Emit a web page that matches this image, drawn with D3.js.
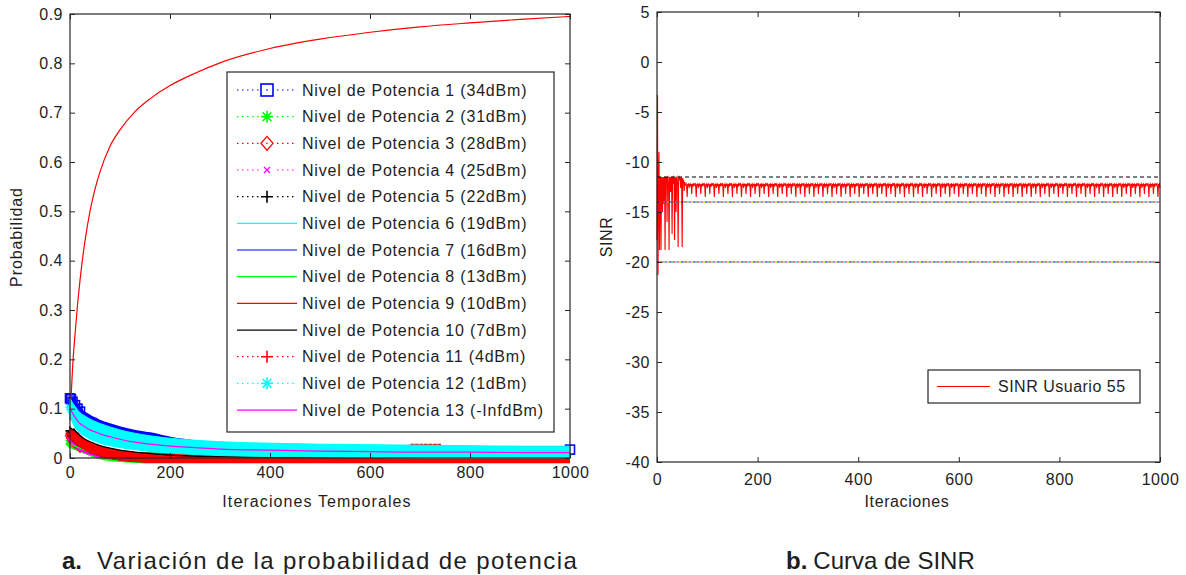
<!DOCTYPE html>
<html>
<head>
<meta charset="utf-8">
<script src="https://cdn.jsdelivr.net/npm/d3@7"></script>
<style>
  body { margin: 0; background: #fff; }
  svg text { font-family: "Liberation Sans", Arial, sans-serif; fill: #1e1e1e; }
</style>
</head>
<body>
<svg id="fig" width="1186" height="575"></svg>
<script>
// ---------- Panel a: probability of each power level ----------
const ITERS = [0, 2, 5, 10, 15, 20, 30, 40, 50, 60, 80, 100, 130, 160, 200, 250, 300, 400, 500, 600, 700, 800, 900, 1000];

const P1  = [0.121,0.119,0.114,0.107,0.100,0.094,0.087,0.081,0.076,0.071,0.064,0.058,0.051,0.046,0.037,0.030,0.026,0.023,0.021,0.020,0.019,0.018,0.017,0.017];
const P2  = [0.035,0.032,0.030,0.028,0.026,0.024,0.020,0.016,0.012,0.009,0.005,0.003,0.001,0,0,0,0,0,0,0,0,0,0,0];
const P3_ITERS = [0, 2, 5, 10, 20, 40, 60, 100, 200, 300, 680, 680, 740, 740, 1000];
const P3  = [0.045,0.040,0.035,0.030,0.022,0.013,0.008,0.004,0.001,0.001,0.001,0.027,0.027,0.001,0.001];
const P4  = [0.045,0.042,0.038,0.033,0.028,0.024,0.018,0.014,0.011,0.009,0.006,0.004,0.002,0.001,0,0,0,0,0,0,0,0,0,0];
const P5  = [0.055,0.052,0.048,0.043,0.038,0.033,0.026,0.021,0.017,0.014,0.009,0.005,0.002,0.001,0,0,0,0,0,0,0,0,0,0];
const P6  = [0.095,0.092,0.086,0.078,0.071,0.066,0.059,0.054,0.050,0.046,0.040,0.035,0.030,0.026,0.022,0.019,0.017,0.014,0.013,0.012,0.011,0.011,0.010,0.010];
const P7  = [0.110,0.107,0.101,0.093,0.086,0.080,0.073,0.067,0.062,0.058,0.051,0.046,0.040,0.035,0.030,0.026,0.023,0.020,0.018,0.017,0.016,0.016,0.015,0.015];
const P8  = [0.030,0.028,0.026,0.024,0.022,0.020,0.016,0.012,0.009,0.007,0.004,0.002,0.001,0,0,0,0,0,0,0,0,0,0,0];
const P9  = [0.077,0.120,0.180,0.250,0.310,0.360,0.440,0.500,0.545,0.580,0.632,0.665,0.702,0.728,0.755,0.780,0.801,0.830,0.849,0.863,0.874,0.882,0.889,0.895];
const P10 = [0.060,0.060,0.058,0.055,0.050,0.045,0.038,0.033,0.029,0.025,0.020,0.016,0.012,0.009,0.006,0.004,0.003,0.002,0.001,0.001,0.001,0.001,0.001,0.001];
const P11 = [0.050,0.049,0.047,0.044,0.039,0.034,0.027,0.022,0.018,0.014,0.009,0.005,0.002,0,0,0,0,0,0,0,0,0,0,0];
const P12 = [0.103,0.099,0.092,0.084,0.077,0.071,0.064,0.058,0.054,0.050,0.044,0.039,0.033,0.029,0.025,0.022,0.019,0.016,0.015,0.014,0.013,0.012,0.012,0.012];
// spread of the level-12 samples around its mean (per iteration window)
const P12_HI = [0.120,0.118,0.112,0.105,0.098,0.092,0.085,0.079,0.074,0.070,0.063,0.057,0.050,0.045,0.040,0.036,0.033,0.030,0.028,0.027,0.026,0.025,0.024,0.024];
const P12_LO = [0.085,0.080,0.072,0.062,0.055,0.050,0.044,0.038,0.034,0.030,0.025,0.021,0.017,0.013,0.010,0.007,0.005,0.003,0.002,0.001,0,0,0,0];
const P13 = [0.100,0.097,0.091,0.083,0.076,0.070,0.063,0.057,0.053,0.049,0.043,0.038,0.032,0.028,0.024,0.021,0.018,0.016,0.014,0.013,0.012,0.012,0.011,0.011];

const LEVEL_NAMES = [
  "Nivel de Potencia 1 (34dBm)", "Nivel de Potencia 2 (31dBm)", "Nivel de Potencia 3 (28dBm)",
  "Nivel de Potencia 4 (25dBm)", "Nivel de Potencia 5 (22dBm)", "Nivel de Potencia 6 (19dBm)",
  "Nivel de Potencia 7 (16dBm)", "Nivel de Potencia 8 (13dBm)", "Nivel de Potencia 9 (10dBm)",
  "Nivel de Potencia 10 (7dBm)", "Nivel de Potencia 11 (4dBm)", "Nivel de Potencia 12 (1dBm)",
  "Nivel de Potencia 13 (-InfdBm)"
];
const LEVEL_COLORS  = ["#0000ff","#00ff00","#ff0000","#ff00ff","#000000","#00ffff","#0000ff","#00ff00","#ff0000","#000000","#ff0000","#00ffff","#ff00ff"];
const LEVEL_DOTTED  = [true,true,true,true,true,false,false,false,false,false,true,true,false];
const LEVEL_MARKERS = ["square","asterisk","diamond","x","plus",null,null,null,null,null,"plus","asterisk",null];

const PROB_X_TICKS = [0, 200, 400, 600, 800, 1000];
const PROB_Y_TICKS = [0, 0.1, 0.2, 0.3, 0.4, 0.5, 0.6, 0.7, 0.8, 0.9];

// ---------- Panel b: SINR of user 55 ----------
// first iterations (transient), one value per iteration from 0
const SINR_HEAD = [-17.8,-3.3,-21.3,-12.5,-9.0,-18.8,-11.5,-11.6,-18.8,-11.5,-11.6,-15.0,-11.5,-14.2,-11.6,-11.5,
  -18.8,-11.5,-11.7,-11.5,-16.0,-11.6,-11.5,-12.4,-18.8,-11.5,-11.6,-13.0,-11.5,-11.7,-17.2,-11.6,-11.5,-12.2,
  -11.6,-17.8,-11.5,-11.7,-15.0,-11.6,-11.5,-12.3,-18.5,-11.6,-11.5,-11.8,-11.6,-12.6,-11.5,-11.7,-18.5,-11.6,
  -11.8,-11.9,-12.9,-12.0];
// the steady regime repeats this cycle up to iteration 1000
const SINR_CYCLE = [-12.2,-12.3,-12.2,-12.5,-13.5,-12.2,-12.3,-12.2,-12.6,-12.2,-12.4,-12.2,-12.3,-13.2,-12.2,-12.5,-12.2,-12.3];
const SINR_LAST_ITER = 1000;
const SINR_TARGET = [-11.5];
const SINR_LIMITS = [-14, -20];
const SINR_X_TICKS = [0, 200, 400, 600, 800, 1000];
const SINR_Y_TICKS = [5, 0, -5, -10, -15, -20, -25, -30, -35, -40];

const svg = d3.select("#fig");
const FRAME = "#262626";

// ---------- helpers ----------
function drawMarker(g, type, x, y, color, s) {
  const m = g.append("g").attr("transform", `translate(${x},${y})`)
    .attr("stroke", color).attr("fill", "none").attr("stroke-width", 1.3);
  if (type === "square") {
    m.append("rect").attr("x", -s).attr("y", -s).attr("width", 2 * s).attr("height", 2 * s).attr("stroke-width", 1.6);
    m.append("rect").attr("x", -0.7).attr("y", -0.7).attr("width", 1.4).attr("height", 1.4).attr("fill", color).attr("stroke", "none");
  } else if (type === "asterisk") {
    const d = s * 0.72;
    m.append("path").attr("d", `M${-s},0H${s}M0,${-s}V${s}M${-d},${-d}L${d},${d}M${-d},${d}L${d},${-d}`).attr("stroke-width", 1.6);
  } else if (type === "diamond") {
    m.append("path").attr("d", `M0,${-s * 1.15}L${s},0L0,${s * 1.15}L${-s},0Z`).attr("stroke-width", 1.3);
    m.append("rect").attr("x", -0.7).attr("y", -0.7).attr("width", 1.4).attr("height", 1.4).attr("fill", color).attr("stroke", "none");
  } else if (type === "x") {
    const d = s * 0.6;
    m.append("path").attr("d", `M${-d},${-d}L${d},${d}M${-d},${d}L${d},${-d}`);
  } else if (type === "plus") {
    m.append("path").attr("d", `M${-s},0H${s}M0,${-s}V${s}`).attr("stroke-width", 1.6);
  }
}

const plainNum = d => String(d);

function boxAxes(g, x, y, xTicks, yTicks, xPad, yPad, fmtY) {
  const [x0, x1] = x.range();
  const [y0, y1] = y.range();
  g.append("g").attr("transform", `translate(0,${y0})`)
    .call(d3.axisBottom(x).tickValues(xTicks).tickSize(-5).tickPadding(xPad).tickFormat(plainNum));
  g.append("g").attr("transform", `translate(0,${y1})`)
    .call(d3.axisTop(x).tickValues(xTicks).tickSize(-5).tickFormat(""));
  g.append("g").attr("transform", `translate(${x0},0)`)
    .call(d3.axisLeft(y).tickValues(yTicks).tickSize(-5).tickPadding(yPad).tickFormat(fmtY));
  g.append("g").attr("transform", `translate(${x1},0)`)
    .call(d3.axisRight(y).tickValues(yTicks).tickSize(-5).tickFormat(""));
  g.selectAll(".domain").remove();
  g.selectAll(".tick line").attr("stroke", FRAME).attr("stroke-width", 1);
  g.selectAll(".tick text").attr("font-size", 16).style("letter-spacing", "0.5px")
    .attr("fill", "#1e1e1e").attr("font-family", '"Liberation Sans", Arial, sans-serif');
  g.append("rect").attr("x", x0).attr("y", y1).attr("width", x1 - x0).attr("height", y0 - y1)
    .attr("fill", "none").attr("stroke", FRAME).attr("stroke-width", 1.2);
}

// ---------- panel a ----------
const xP = d3.scaleLinear().domain([0, 1000]).range([70, 570]);
const yP = d3.scaleLinear().domain([0, 0.9]).range([458, 14]);
const gA = svg.append("g");

const probSeries = [P1, P2, P3, P4, P5, P6, P7, P8, P9, P10, P11, P12, P13];
const lineSmooth = d3.line().x(d => xP(d[0])).y(d => yP(d[1])).curve(d3.curveMonotoneX);
const lineStep = d3.line().x(d => xP(d[0])).y(d => yP(d[1]));
const spreadArea = d3.area().x((d, k) => xP(ITERS[k])).y0(d => yP(d[0])).y1(d => yP(d[1])).curve(d3.curveMonotoneX);

// marker size of the trail left by the dense markers of each series
const TRAIL_WIDTH = { square: 6, asterisk: 11, diamond: 0, x: 8, plus: 10 };
// drawing order: level 10 is kept above the trail of level 11
const ORDER = [0, 1, 2, 3, 4, 5, 6, 7, 8, 10, 9, 11, 12];

ORDER.forEach(i => {
  const vals = probSeries[i];
  const its = i === 2 ? P3_ITERS : ITERS;
  const pts = its.map((t, k) => [t, vals[k]]);
  const path = i === 2 ? lineStep(pts) : lineSmooth(pts);
  const col = LEVEL_COLORS[i];
  const mk = LEVEL_MARKERS[i];
  const sg = gA.append("g");
  if (i === 11) {
    sg.append("path").attr("d", spreadArea(P12_LO.map((lo, k) => [lo, P12_HI[k]])))
      .attr("fill", col).attr("stroke", col).attr("stroke-width", 1);
  } else if (mk && TRAIL_WIDTH[mk]) {
    sg.append("path").attr("d", path).attr("fill", "none").attr("stroke", col)
      .attr("stroke-width", TRAIL_WIDTH[mk]).attr("stroke-linejoin", "round").attr("stroke-linecap", "butt");
  }
  // level 3: its dense diamonds read as an almost continuous line
  sg.append("path").attr("d", path).attr("fill", "none").attr("stroke", col)
    .attr("stroke-width", i === 2 ? 2 : 1.2)
    .attr("stroke-dasharray", LEVEL_DOTTED[i] ? (i === 2 ? "4,0.5" : "1.5,3") : null);
  if (mk) {
    pts.filter(p => p[0] <= 20 || (i === 0 && p[0] === 1000))
      .forEach(p => drawMarker(sg, mk, xP(p[0]), yP(p[1]), col, 4.5));
  }
});

boxAxes(gA, xP, yP, PROB_X_TICKS, PROB_Y_TICKS, 9, 7, d => d === 0 ? "0" : d3.format(".1f")(d));

// legend
const legA = gA.append("g");
legA.append("rect").attr("x", 227).attr("y", 72).attr("width", 327).attr("height", 360)
  .attr("fill", "#fff").attr("stroke", FRAME).attr("stroke-width", 1.2);
LEVEL_NAMES.forEach((name, i) => {
  const y = 90 + i * 26.67;
  const col = LEVEL_COLORS[i];
  legA.append("line").attr("x1", 237).attr("x2", 297).attr("y1", y).attr("y2", y)
    .attr("stroke", col).attr("stroke-width", 1.2)
    .attr("stroke-dasharray", LEVEL_DOTTED[i] ? "1.5,3.5" : null);
  if (LEVEL_MARKERS[i]) {
    legA.append("rect").attr("x", 259).attr("y", y - 7).attr("width", 16).attr("height", 14).attr("fill", "#fff");
    drawMarker(legA, LEVEL_MARKERS[i], 267, y, col, LEVEL_MARKERS[i] === "x" ? 5 : 6);
  }
  legA.append("text").attr("x", 302).attr("y", y).attr("dy", "0.36em")
    .attr("font-size", 16).style("letter-spacing", "0.8px").text(name);
});

gA.append("text").attr("x", 317).attr("y", 501).attr("dy", "0.36em").attr("text-anchor", "middle")
  .attr("font-size", 16).style("letter-spacing", "1.1px").text("Iteraciones Temporales");
gA.append("text").attr("transform", "translate(16,237) rotate(-90)").attr("dy", "0.36em")
  .attr("text-anchor", "middle").attr("font-size", 16).style("letter-spacing", "0.9px").text("Probabilidad");

// ---------- panel b ----------
const xS = d3.scaleLinear().domain([0, 1000]).range([657, 1160]);
const yS = d3.scaleLinear().domain([-40, 5]).range([462, 12]);
const gB = svg.append("g");

const sinr = [];
for (let t = 0; t <= SINR_LAST_ITER; t++) {
  const v = t < SINR_HEAD.length ? SINR_HEAD[t] : SINR_CYCLE[(t - SINR_HEAD.length) % SINR_CYCLE.length];
  sinr.push([t, v]);
}
const lineS = d3.line().x(d => xS(d[0])).y(d => yS(d[1]));
gB.append("path").attr("d", lineS(sinr)).attr("fill", "none").attr("stroke", "#ff0000").attr("stroke-width", 1.1);

// target level (dashed black)
SINR_TARGET.forEach(v => {
  gB.append("path").attr("d", lineS([[0, v], [1000, v]])).attr("fill", "none")
    .attr("stroke", "#000").attr("stroke-width", 1.1).attr("stroke-dasharray", "4,3");
});
// limit levels: several overlapping dash-dot lines in different colours
const LIMIT_COLORS = ["#0000ff", "#00a000", "#ff0000", "#00bfbf", "#bf00bf", "#bfbf00"];
SINR_LIMITS.forEach(v => {
  LIMIT_COLORS.forEach((c, k) => {
    gB.append("path").attr("d", lineS([[0, v], [1000, v]])).attr("fill", "none")
      .attr("stroke", c).attr("stroke-width", 1.1)
      .attr("stroke-dasharray", "2,10").attr("stroke-dashoffset", -2 * k);
  });
});

boxAxes(gB, xS, yS, SINR_X_TICKS, SINR_Y_TICKS, 12, 7, plainNum);

const legB = gB.append("g");
legB.append("rect").attr("x", 928).attr("y", 370).attr("width", 212).attr("height", 33)
  .attr("fill", "#fff").attr("stroke", FRAME).attr("stroke-width", 1.2);
legB.append("line").attr("x1", 937).attr("x2", 990).attr("y1", 386.5).attr("y2", 386.5)
  .attr("stroke", "#ff0000").attr("stroke-width", 1.2);
legB.append("text").attr("x", 998).attr("y", 386.5).attr("dy", "0.36em")
  .attr("font-size", 16).style("letter-spacing", "0.5px").text("SINR Usuario 55");

gB.append("text").attr("x", 907).attr("y", 501).attr("dy", "0.36em").attr("text-anchor", "middle")
  .attr("font-size", 16).style("letter-spacing", "0.6px").text("Iteraciones");
gB.append("text").attr("transform", "translate(606,237) rotate(-90)").attr("dy", "0.36em")
  .attr("text-anchor", "middle").attr("font-size", 16).style("letter-spacing", "0.6px").text("SINR");

// ---------- captions ----------
const capA = svg.append("text").attr("x", 62).attr("y", 569).attr("font-size", 24);
capA.append("tspan").attr("font-weight", "bold").text("a.");
capA.append("tspan").attr("dx", 15).style("letter-spacing", "1.4px").text("Variación de la probabilidad de potencia");
const capB = svg.append("text").attr("x", 786).attr("y", 569).attr("font-size", 24);
capB.append("tspan").attr("font-weight", "bold").text("b.");
capB.append("tspan").attr("dx", 6).text("Curva de SINR");
</script>
</body>
</html>
